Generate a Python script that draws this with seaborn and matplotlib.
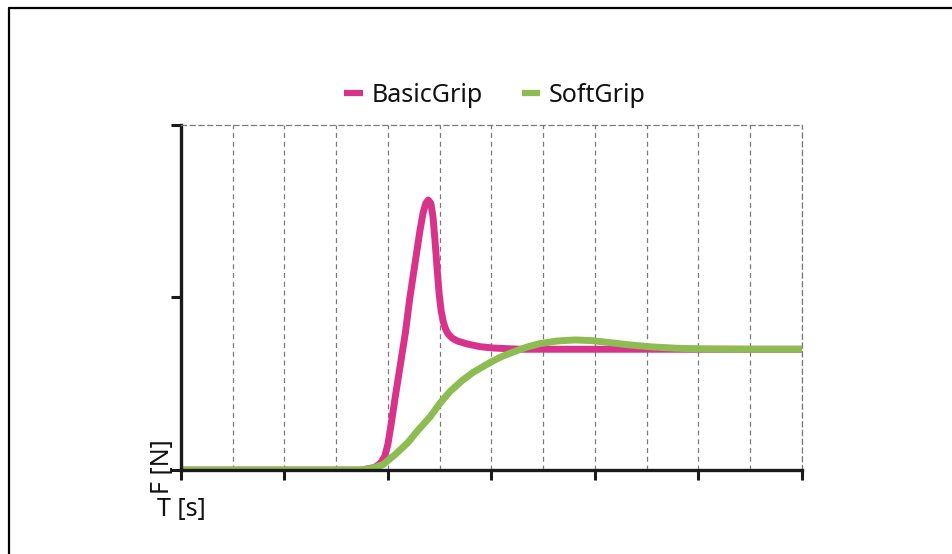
import pandas as pd
import matplotlib.pyplot as plt
import seaborn as sns
from matplotlib.lines import Line2D
from matplotlib.ticker import MultipleLocator

# values (x in tick units 0..6, y in tick units 0..2)
basic_t = [0.0, 1.00, 1.75, 1.87, 1.93, 1.97, 2.00, 2.03, 2.07, 2.12, 2.17, 2.21, 2.26,
           2.31, 2.34, 2.365, 2.39, 2.415, 2.435, 2.455, 2.475, 2.495, 2.515, 2.535,
           2.555, 2.58, 2.62, 2.67, 2.77, 2.89, 3.02, 3.28, 4.00, 5.00, 6.00]
basic_f = [0.0, 0.0, 0.0, 0.015, 0.04, 0.08, 0.15, 0.26, 0.42, 0.61, 0.80, 0.99, 1.19,
           1.39, 1.49, 1.545, 1.565, 1.545, 1.47, 1.33, 1.17, 1.02, 0.92, 0.86,
           0.82, 0.79, 0.765, 0.748, 0.73, 0.715, 0.707, 0.70, 0.70, 0.70, 0.70]

soft_t = [0.0, 1.00, 1.73, 1.83, 1.95, 2.07, 2.19, 2.29, 2.41, 2.50, 2.60, 2.71, 2.82,
          2.99, 3.09, 3.21, 3.34, 3.47, 3.64, 3.81, 3.97, 4.15, 4.34, 4.54, 4.78, 5.02,
          5.50, 6.00]
soft_f = [0.0, 0.0, 0.0, 0.008, 0.03, 0.09, 0.157, 0.23, 0.31, 0.385, 0.455, 0.515, 0.565,
          0.624, 0.655, 0.684, 0.712, 0.733, 0.748, 0.754, 0.75, 0.738, 0.725, 0.714, 0.706,
          0.702, 0.70, 0.70]

series_names = ["BasicGrip", "SoftGrip"]
colors = {"BasicGrip": "#d9328a", "SoftGrip": "#8dbd52"}

df = pd.concat([
    pd.DataFrame({"T": basic_t, "F": basic_f, "Grip": series_names[0]}),
    pd.DataFrame({"T": soft_t, "F": soft_f, "Grip": series_names[1]}),
], ignore_index=True)

sns.set_style("white")
plt.rcParams["font.family"] = ["Noto Sans", "DejaVu Sans"]
plt.rcParams["text.color"] = "#111111"

fig = plt.figure(figsize=(9.52, 5.54), dpi=100)
ax = fig.add_axes([0.190, 0.1516, 0.6524, 0.6228])

sns.lineplot(data=df, x="T", y="F", hue="Grip", palette=colors, linewidth=5,
             sort=False, estimator=None, ax=ax)
for line in ax.get_lines():
    line.set_solid_capstyle("butt")
    line.set_solid_joinstyle("round")

ax.set_xlim(0, 6)
ax.set_ylim(0, 2)
ax.xaxis.set_major_locator(MultipleLocator(1))
ax.xaxis.set_minor_locator(MultipleLocator(0.5))
ax.yaxis.set_major_locator(MultipleLocator(1))
ax.set_xticklabels([])
ax.set_yticklabels([])
ax.set_xlabel("")
ax.set_ylabel("")

ax.tick_params(axis="x", which="major", direction="out", length=7, width=2.2,
               color="#1a1a1a", bottom=True)
ax.tick_params(axis="x", which="minor", length=0)
ax.tick_params(axis="y", which="major", direction="out", length=7.5, width=2.2,
               color="#1a1a1a", left=True)

ax.grid(axis="x", which="both", color="#7a7a7a", linestyle=(0, (4, 3)), linewidth=0.9)
ax.grid(axis="y", visible=False)
ax.set_axisbelow(True)

for side in ["left", "bottom"]:
    ax.spines[side].set_color("#1a1a1a")
    ax.spines[side].set_linewidth(2.4)
for side in ["top", "right"]:
    ax.spines[side].set_color("#7a7a7a")
    ax.spines[side].set_linewidth(0.9)
    ax.spines[side].set_linestyle((0, (4, 3)))
    ax.spines[side].set_visible(True)

sns.move_legend(ax, "center", bbox_to_anchor=(0.506, 1.085), ncol=2, title=None,
                frameon=False, fontsize=18, handlelength=0.75, handletextpad=0.35,
                columnspacing=1.55)
for h in ax.get_legend().get_lines():
    h.set_linewidth(4.5)
    h.set_solid_capstyle("butt")

fig.text(0.171, 0.158, "F [N]", rotation=90, ha="center", va="center", fontsize=18)
fig.text(0.191, 0.081, "T [s]", ha="center", va="center", fontsize=18)

# page frame on the left and top
fig.add_artist(Line2D([0.009, 0.009], [0.0, 0.986], transform=fig.transFigure,
                      color="black", linewidth=1.6))
fig.add_artist(Line2D([0.009, 1.0], [0.986, 0.986], transform=fig.transFigure,
                      color="black", linewidth=1.6))

fig.savefig("out.png", dpi=100)
